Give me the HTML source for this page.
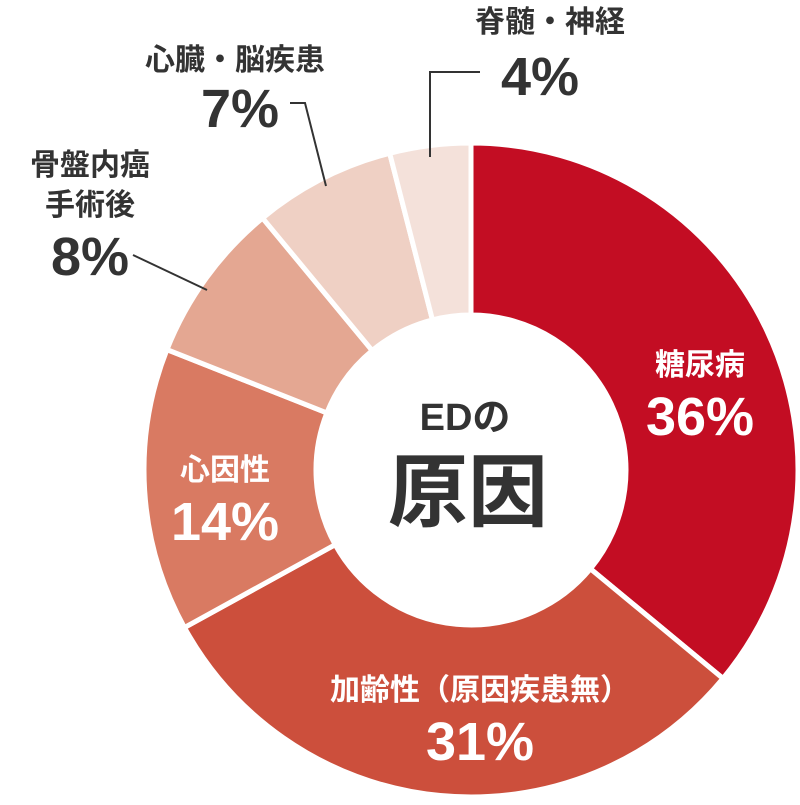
<!DOCTYPE html>
<html><head><meta charset="utf-8"><style>
html,body{margin:0;padding:0;background:#fff;}
svg text{font-family:"Liberation Sans","Noto Sans CJK JP",sans-serif;font-weight:bold;}
</style></head><body>
<svg id="s" width="800" height="800" viewBox="0 0 800 800" xmlns="http://www.w3.org/2000/svg">
<g id="slices"></g>
<g stroke="#333" stroke-width="2" fill="none">
<polyline points="133,255 207,290"/>
<polyline points="290,103 305,103 326,186"/>
<polyline points="480,72 430,72 430,157"/>
</g>
<g text-anchor="middle">
<text x="700" y="375" font-size="30" fill="#fff">糖尿病</text>
<text x="700" y="435" font-size="54" fill="#fff">36%</text>
<text x="480" y="700" font-size="30" fill="#fff">加齢性（原因疾患無）</text>
<text x="480" y="760" font-size="54" fill="#fff">31%</text>
<text x="225" y="480" font-size="30" fill="#fff">心因性</text>
<text x="225" y="540" font-size="54" fill="#fff">14%</text>
<text x="90" y="175" font-size="30" fill="#333">骨盤内癌</text>
<text x="90" y="215" font-size="30" fill="#333">手術後</text>
<text x="90" y="275" font-size="54" fill="#333">8%</text>
<text x="235" y="70" font-size="30" fill="#333">心臓・脳疾患</text>
<text x="240" y="127" font-size="54" fill="#333">7%</text>
<text x="550" y="32" font-size="30" fill="#333">脊髄・神経</text>
<text x="540" y="95" font-size="54" fill="#333">4%</text>
<text x="465" y="430" font-size="38" fill="#333">EDの</text>
<text x="468" y="520" font-size="80" fill="#333">原因</text>
</g>
</svg>
<script>
var cx=471,cy=470,R=327,r=155;
var d=[[36,"#c30d23"],[31,"#cc4f3c"],[14,"#d97a62"],[8,"#e4a792"],[7,"#efd0c4"],[4,"#f4e1da"]];
var a=0,g=document.getElementById("slices"),h="";
function p(rad,ang){var t=ang*Math.PI/180;return (cx+rad*Math.sin(t)).toFixed(2)+","+(cy-rad*Math.cos(t)).toFixed(2);}
d.forEach(function(x){var b=a+x[0]*3.6,l=(b-a)>180?1:0;
h+='<path d="M'+p(R,a)+' A'+R+','+R+' 0 '+l+' 1 '+p(R,b)+' L'+p(r,b)+' A'+r+','+r+' 0 '+l+' 0 '+p(r,a)+' Z" fill="'+x[1]+'" stroke="#fff" stroke-width="5" stroke-linejoin="miter"/>';a=b;});
g.innerHTML=h;
</script>
</body></html>
